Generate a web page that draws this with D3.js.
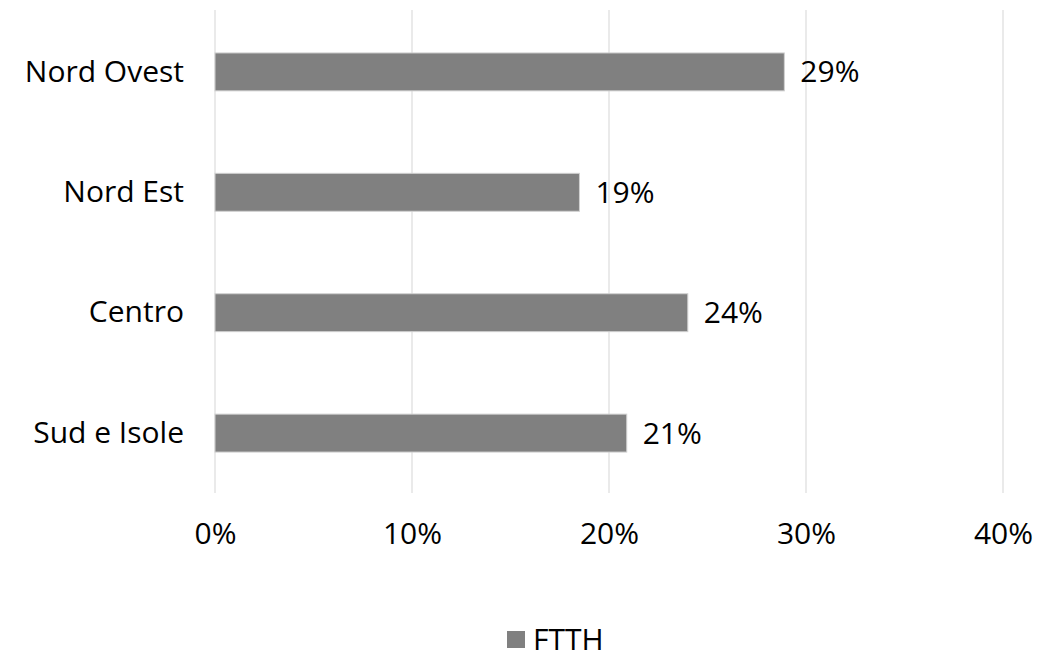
<!DOCTYPE html>
<html>
<head>
<meta charset="utf-8">
<script src="https://cdn.jsdelivr.net/npm/d3@7"></script>
<style>
  body { margin: 0; background: #fff; }
  text { font-family: "Open Sans", sans-serif; fill: #000; font-weight: 500; }
</style>
</head>
<body>
<div id="chart"></div>
<script>
// data
let categories = ['Nord Ovest', 'Nord Est', 'Centro', 'Sud e Isole']
let ftth = [28.9, 18.5, 24.0, 20.9]
let valueLabels = ['29%', '19%', '24%', '21%']
let xTicks = [0, 10, 20, 30, 40]
let seriesName = 'FTTH'

let margin = {top: 12, right: 38, left: 215, bottom: 167}
let width = 1041 - margin.left - margin.right
let height = 660 - margin.top - margin.bottom
let fontSize = '30px'

let svg = d3.select('div#chart')
  .append('svg')
    .attr('width', 1041)
    .attr('height', 660)

let g = svg.append('g')
  .attr('transform', `translate(${margin.left}, ${margin.top})`)

let x = d3.scaleLinear().domain([0, 40]).range([0, width])
let y = d3.scaleBand().domain(categories).range([0, height]).paddingInner(0.685).paddingOuter(0.34)

// gridlines
g.append('g')
  .selectAll('line')
  .data(xTicks)
  .enter().append('line')
  .attr('x1', d => x(d))
  .attr('x2', d => x(d))
  .attr('y1', -2)
  .attr('y2', height)
  .attr('stroke', '#e3e3e3')
  .attr('stroke-width', 1.5)

// x axis labels
let xAxis = g.append('g')
  .attr('transform', `translate(0, ${height})`)
  .call(d3.axisBottom(x).tickValues(xTicks).tickFormat(d => d + '%').tickSize(0).tickPadding(30))
xAxis.select('.domain').remove()
xAxis.selectAll('text')
  .style('font-size', fontSize)
  .style('font-family', '"Open Sans", sans-serif')
  .style('font-weight', 500)

// y axis labels
let yAxis = g.append('g')
  .call(d3.axisLeft(y).tickSize(0).tickPadding(31))
yAxis.select('.domain').remove()
yAxis.selectAll('text')
  .style('font-size', fontSize)
  .style('font-family', '"Open Sans", sans-serif')
  .style('font-weight', 500)

// bars
g.selectAll('rect.bar')
  .data(categories)
  .enter().append('rect')
  .attr('class', 'bar')
  .attr('x', 0)
  .attr('y', d => y(d))
  .attr('width', (d, i) => x(ftth[i]))
  .attr('height', y.bandwidth())
  .attr('fill', '#808080')
  .attr('stroke', '#d0d0d0')
  .attr('stroke-width', 1)

// value labels
g.selectAll('text.val')
  .data(categories)
  .enter().append('text')
  .attr('class', 'val')
  .attr('x', (d, i) => x(ftth[i]) + 16)
  .attr('y', d => y(d) + y.bandwidth() / 2)
  .attr('dy', '0.35em')
  .style('font-size', fontSize)
  .text((d, i) => valueLabels[i])

// legend (kept just inside the bottom edge)
let legend = svg.append('g')
  .attr('transform', 'translate(507, 650)')
legend.append('rect')
  .attr('x', 0)
  .attr('y', -19)
  .attr('width', 18)
  .attr('height', 17)
  .attr('fill', '#808080')
legend.append('text')
  .attr('x', 26)
  .attr('y', 0)
  .style('font-size', fontSize)
  .text(seriesName)
</script>
</body>
</html>
